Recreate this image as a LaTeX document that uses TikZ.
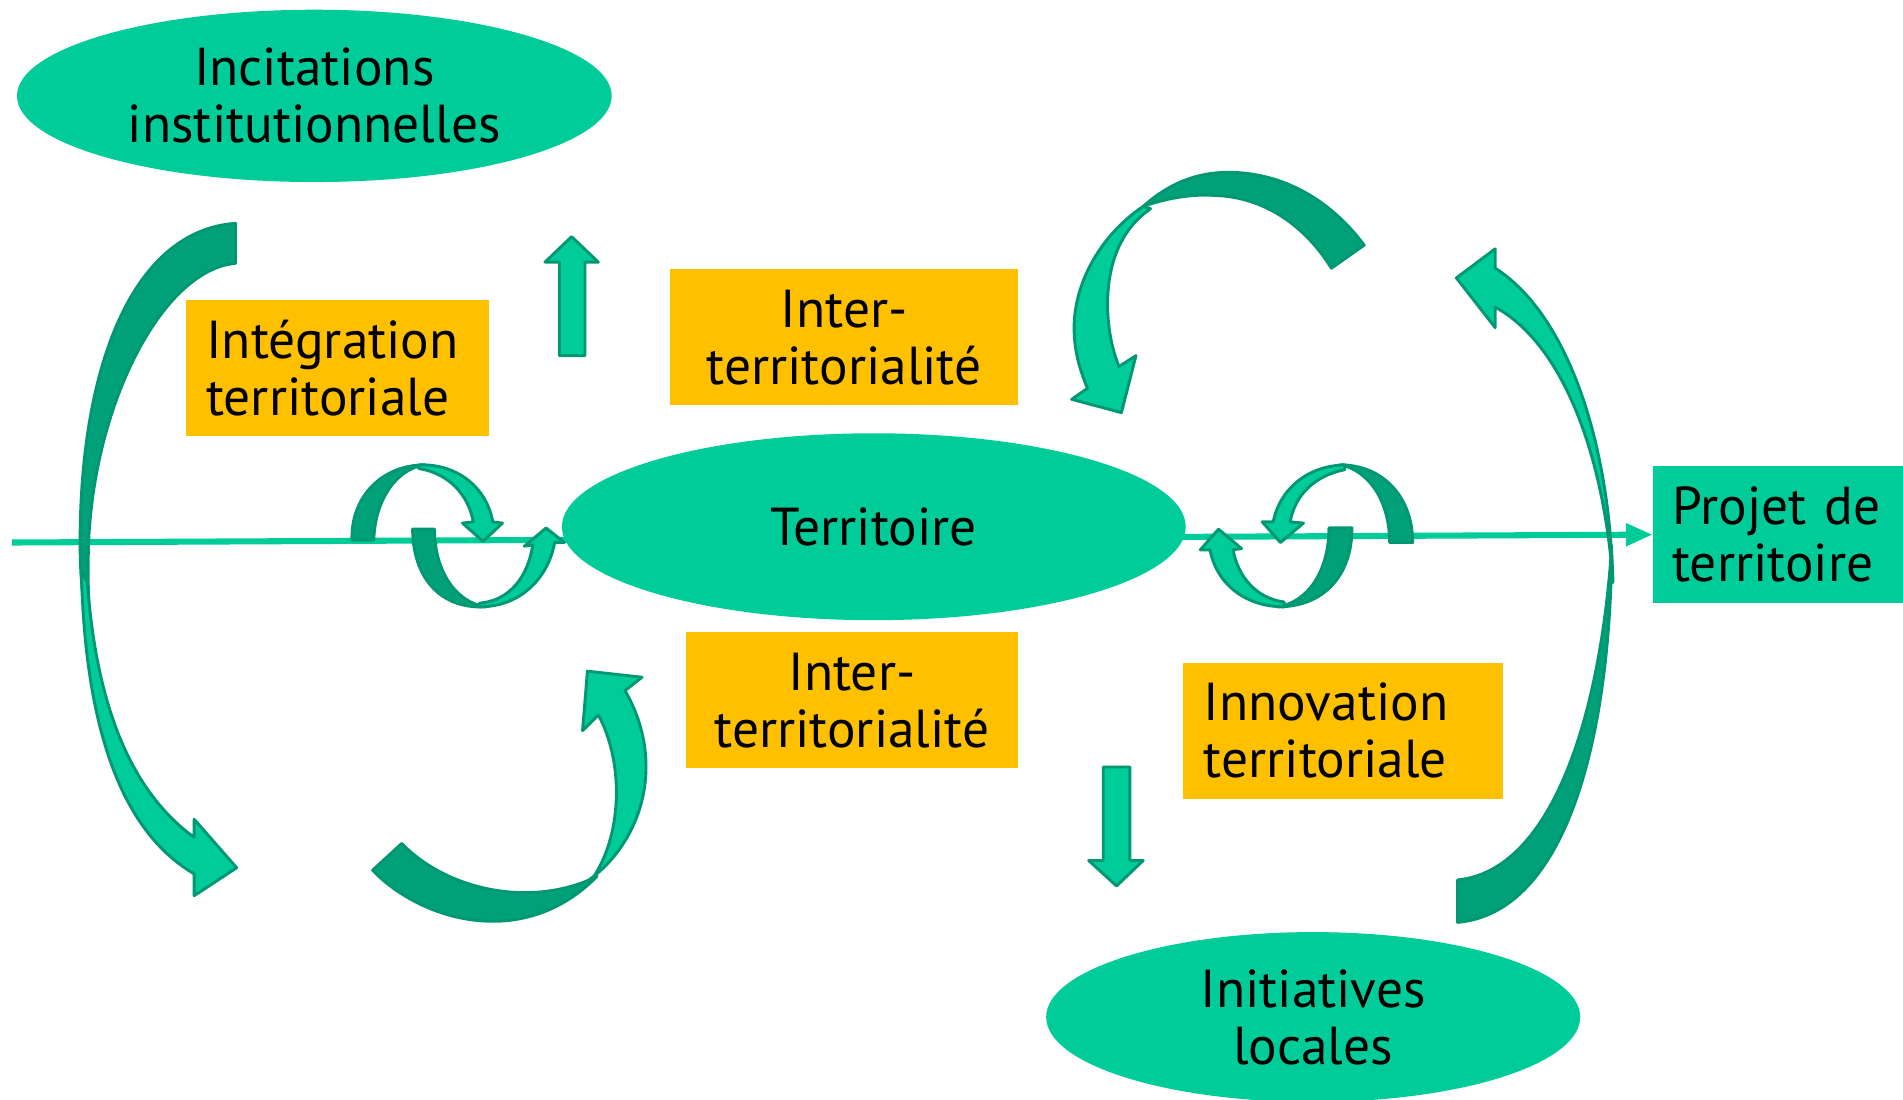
\documentclass[tikz,border=0pt]{standalone}
\usepackage{fontspec}
\setmainfont{PT Sans}
\usetikzlibrary{shapes.geometric,arrows.meta}
\definecolor{lg}{RGB}{0,204,153}
\definecolor{dg}{RGB}{0,161,120}
\definecolor{og}{RGB}{0,152,114}
\definecolor{yb}{RGB}{255,192,0}
\begin{document}
\begin{tikzpicture}[x=0.5pt,y=-0.5pt,
  txt/.style={font=\fontsize{22pt}{23.5pt}\selectfont, align=center, text=black},
  ell/.style={ellipse, fill=lg, inner sep=0pt, txt},
  ybox/.style={rectangle, fill=yb, inner sep=0pt, minimum height=56pt, txt},
  gbox/.style={rectangle, fill=lg, inner sep=0pt, minimum height=56.5pt, txt},
  back/.style={fill=dg, draw=og, line width=1.2pt, line join=round},
  front/.style={fill=lg, draw=og, line width=1.2pt, line join=round},
  flow/.style={draw=lg, line width=2.5pt, -{Triangle[length=11pt,width=9pt]}}]
\useasboundingbox (0,0) rectangle (1568,906);

% nodes
\node[ell, minimum width=245pt, minimum height=71pt] (inc) at (259,79) {Incitations\\institutionnelles};
\node[ybox, text width=108pt, inner xsep=8.5pt, align=left] (integ) at (278,303) {Intégration\\territoriale};
\node[ybox, minimum width=143.5pt] (intertop) at (695.5,278) {Inter-\\territorialité};
\node[gbox, text width=87pt, inner xsep=8pt, align=left] (proj) at (1465,440.5) {Projet de\\territoire};
\coordinate (start) at (10,447);
\draw[flow] (start) -- (proj.west);
\node[ell, minimum width=257pt, minimum height=77pt] (terr) at (720,434) {Territoire};
\node[ybox, minimum width=137pt] (interbot) at (702,577) {Inter-\\territorialité};
\node[ybox, text width=114.5pt, inner xsep=8.5pt, align=left] (innov) at (1106.5,602) {Innovation\\territoriale};
\node[ell, minimum width=220pt, minimum height=70pt] (init) at (1082,838) {Initiatives\\locales};

% block arrows
\draw[front] (461,293) -- (461,216) -- (449,216) -- (471,195) -- (493,216) -- (482,216) -- (482,293) -- cycle;
\draw[front] (909,632) -- (909,709) -- (897,709) -- (920,730) -- (942,709) -- (931,709) -- (931,632) -- cycle;

% big left curved arrow
\draw[back] (194,184) -- (194,217) .. controls (135,222) and (78,330) .. (73,447)
  .. controls (72,480) and (73,505) .. (76,530)
  .. controls (69,505) and (66,480) .. (66,447)
  .. controls (66,300) and (110,190) .. (194,184) -- cycle;
\draw[front] (67,470) .. controls (70,600) and (100,685) .. (160,720) -- (160,738) -- (195,715)
  -- (160,675) -- (160,690) .. controls (112,655) and (80,590) .. (72,480) -- cycle;

% upper right curved arrow
\draw[back] (1097,221) -- (1124,202) .. controls (1095,163) and (1055,142) .. (1012,142)
  .. controls (985,142) and (962,152) .. (942,170)
  .. controls (965,162) and (985,160) .. (1000,161)
  .. controls (1045,162) and (1078,190) .. (1097,221) -- cycle;
\draw[front] (942,170) .. controls (905,195) and (885,235) .. (885,270)
  .. controls (885,290) and (890,305) .. (896,320) -- (883,329) -- (924,340) -- (936,293) -- (922,302)
  .. controls (913,280) and (910,250) .. (915,225)
  .. controls (920,200) and (932,183) .. (948,172) -- cycle;

% big right curved arrow
\draw[back] (1201,725) -- (1201,760) .. controls (1290,752) and (1327,610) .. (1328,450)
  .. controls (1318,600) and (1275,718) .. (1201,725) -- cycle;
\draw[front] (1232,221) .. controls (1290,258) and (1326,360) .. (1329,480)
  .. controls (1322,380) and (1290,285) .. (1232,253) -- (1232,270) -- (1200,229) -- (1232,205) -- cycle;

% bottom left curved arrow
\draw[back] (331,695) -- (307,717) .. controls (345,757) and (430,785) .. (492,722)
  .. controls (440,748) and (370,735) .. (331,695) -- cycle;
\draw[front] (484,726) .. controls (528,695) and (550,630) .. (515,569) -- (529,558) -- (484,553)
  -- (480,602) -- (493,589) .. controls (515,630) and (512,690) .. (488,724) -- cycle;

% small loops left
\draw[back] (290,445) .. controls (289,408) and (316,383) .. (350,383)
  .. controls (328,386) and (309,410) .. (308,445) -- cycle;
\draw[front] (345,383) .. controls (380,382) and (402,405) .. (406,430) -- (414,431) -- (398,446)
  -- (381,431) -- (390,430) .. controls (386,408) and (370,390) .. (345,386) -- cycle;
\draw[back] (340,436) .. controls (340,475) and (362,502) .. (400,500)
  .. controls (375,496) and (358,470) .. (358,436) -- cycle;
\draw[front] (395,500) .. controls (430,500) and (452,475) .. (457,447) -- (465,447) -- (450,435)
  -- (432,450) -- (439,449) .. controls (435,475) and (420,495) .. (395,497) -- cycle;

% small loops right
\draw[back] (1164,447) .. controls (1164,410) and (1140,383) .. (1104,383)
  .. controls (1127,387) and (1145,412) .. (1145,447) -- cycle;
\draw[front] (1108,383) .. controls (1075,384) and (1054,405) .. (1049,430) -- (1040,430) -- (1055,447)
  -- (1074,431) -- (1063,430) .. controls (1067,408) and (1083,392) .. (1108,387) -- cycle;
\draw[back] (1114,435) .. controls (1114,475) and (1090,500) .. (1053,500)
  .. controls (1078,496) and (1095,470) .. (1095,435) -- cycle;
\draw[front] (1058,500) .. controls (1025,500) and (1002,480) .. (997,453) -- (989,453) -- (1004,436)
  -- (1023,452) -- (1016,453) .. controls (1020,475) and (1035,493) .. (1058,496) -- cycle;
\end{tikzpicture}
\end{document}
